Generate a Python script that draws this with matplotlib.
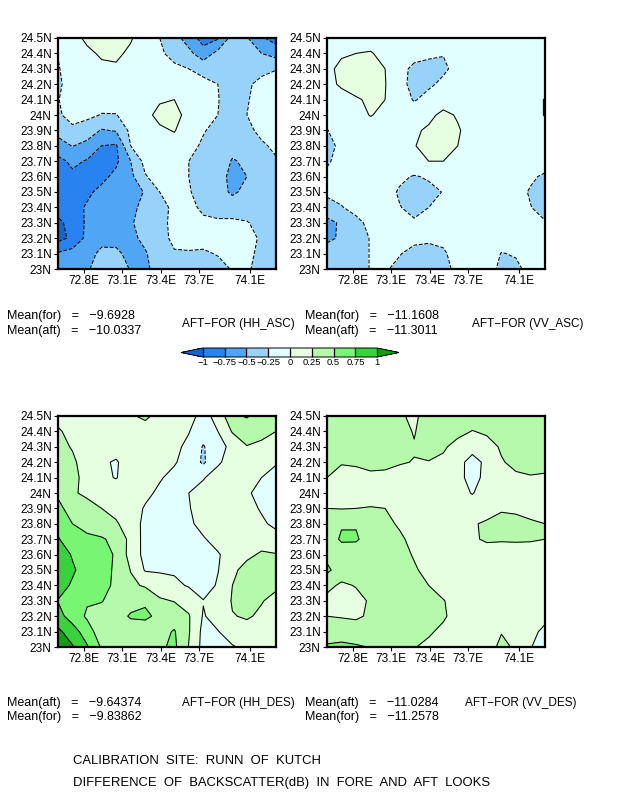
import numpy as np
import matplotlib
matplotlib.use('Agg')
from matplotlib import pyplot as plt
from matplotlib.colors import ListedColormap, BoundaryNorm

W, H = 618, 800

lons = [72.6, 72.713, 72.827, 72.94, 73.053, 73.167, 73.28, 73.393,
        73.507, 73.62, 73.733, 73.847, 73.96, 74.073, 74.187, 74.3]
lats = [24.5, 24.4, 24.3, 24.2, 24.1, 24.0, 23.9, 23.8,
        23.7, 23.6, 23.5, 23.4, 23.3, 23.2, 23.1, 23.0]

levels = [-1, -0.75, -0.5, -0.25, 0, 0.25, 0.5, 0.75, 1]
level_labels = ['\u22121', '\u22120.75', '\u22120.5', '\u22120.25', '0', '0.25', '0.5', '0.75', '1']
colors = ['#1464d2', '#2882f0', '#50a5f5', '#96d2fa', '#e1ffff',
          '#e6ffe1', '#b4faaa', '#78f573', '#37d23c', '#0fa00f']

xticks = [72.8, 73.1, 73.4, 73.7, 74.1]
yticks = [23, 23.1, 23.2, 23.3, 23.4, 23.5, 23.6, 23.7, 23.8, 23.9, 24, 24.1, 24.2, 24.3, 24.4, 24.5]

hh_asc = [
    [-0.15, -0.05, 0.03, 0.08, 0.08, 0.02, -0.12, -0.25, -0.4, -0.62, -0.85, -0.78, -0.4, -0.48, -0.72, -0.85],
    [-0.24, -0.12, -0.03, 0.02, 0.04, -0.04, -0.12, -0.21, -0.33, -0.43, -0.65, -0.42, -0.3, -0.36, -0.5, -0.6],
    [-0.27, -0.12, -0.06, -0.03, -0.03, -0.06, -0.1, -0.14, -0.2, -0.25, -0.32, -0.33, -0.33, -0.3, -0.32, -0.26],
    [-0.29, -0.15, -0.08, -0.06, -0.06, -0.06, -0.06, -0.08, -0.12, -0.15, -0.19, -0.25, -0.36, -0.29, -0.18, -0.15],
    [-0.26, -0.14, -0.1, -0.17, -0.14, -0.05, -0.05, -0.02, 0.0, -0.1, -0.2, -0.24, -0.36, -0.27, -0.15, -0.12],
    [-0.27, -0.2, -0.2, -0.26, -0.26, -0.13, -0.05, 0.05, 0.07, -0.07, -0.17, -0.25, -0.37, -0.25, -0.12, -0.1],
    [-0.42, -0.28, -0.36, -0.52, -0.48, -0.19, -0.1, -0.03, 0.01, -0.1, -0.23, -0.33, -0.38, -0.3, -0.2, -0.14],
    [-0.6, -0.49, -0.58, -0.75, -0.78, -0.25, -0.1, -0.07, -0.07, -0.17, -0.29, -0.33, -0.42, -0.36, -0.28, -0.21],
    [-0.82, -0.7, -0.77, -0.82, -0.8, -0.5, -0.17, -0.11, -0.1, -0.25, -0.31, -0.35, -0.52, -0.46, -0.33, -0.27],
    [-0.88, -0.8, -0.85, -0.82, -0.68, -0.56, -0.27, -0.14, -0.13, -0.25, -0.3, -0.4, -0.57, -0.5, -0.34, -0.3],
    [-0.92, -0.88, -0.8, -0.68, -0.6, -0.56, -0.49, -0.25, -0.15, -0.24, -0.3, -0.38, -0.55, -0.42, -0.33, -0.3],
    [-0.95, -0.85, -0.72, -0.65, -0.6, -0.56, -0.43, -0.36, -0.18, -0.18, -0.3, -0.33, -0.33, -0.33, -0.33, -0.33],
    [-1.03, -0.95, -0.7, -0.62, -0.58, -0.52, -0.42, -0.33, -0.18, -0.15, -0.2, -0.22, -0.22, -0.24, -0.3, -0.33],
    [-1.08, -0.95, -0.68, -0.57, -0.56, -0.55, -0.45, -0.33, -0.2, -0.17, -0.2, -0.2, -0.18, -0.2, -0.27, -0.33],
    [-0.72, -0.65, -0.58, -0.45, -0.46, -0.56, -0.52, -0.38, -0.27, -0.27, -0.27, -0.24, -0.16, -0.2, -0.3, -0.35],
    [-0.65, -0.6, -0.52, -0.42, -0.42, -0.51, -0.54, -0.42, -0.37, -0.33, -0.28, -0.3, -0.24, -0.23, -0.3, -0.35],
]

vv_asc = [
    [-0.1, -0.08, -0.07, -0.06, -0.08, -0.1, -0.12, -0.14, -0.15, -0.12, -0.1, -0.1, -0.1, -0.1, -0.1, -0.1],
    [-0.1, -0.03, 0.0, 0.01, -0.04, -0.1, -0.17, -0.22, -0.24, -0.12, -0.1, -0.1, -0.1, -0.1, -0.1, -0.1],
    [-0.06, 0.06, 0.07, 0.08, 0.0, -0.18, -0.3, -0.3, -0.29, -0.18, -0.1, -0.1, -0.1, -0.1, -0.1, -0.1],
    [-0.06, 0.03, 0.08, 0.09, 0.01, -0.18, -0.32, -0.29, -0.2, -0.13, -0.1, -0.1, -0.1, -0.1, -0.1, -0.1],
    [-0.12, -0.08, -0.02, 0.03, 0.0, -0.12, -0.27, -0.17, -0.1, -0.1, -0.1, -0.1, -0.1, -0.1, -0.08, 0.01],
    [-0.15, -0.12, -0.07, 0.01, -0.05, -0.1, -0.12, -0.05, 0.05, -0.02, -0.08, -0.1, -0.1, -0.1, -0.08, 0.01],
    [-0.26, -0.14, -0.1, -0.1, -0.1, -0.08, -0.03, 0.03, 0.08, 0.02, -0.08, -0.1, -0.1, -0.1, -0.1, -0.06],
    [-0.33, -0.19, -0.12, -0.1, -0.1, -0.07, -0.01, 0.07, 0.1, 0.0, -0.08, -0.1, -0.1, -0.1, -0.1, -0.1],
    [-0.28, -0.17, -0.12, -0.1, -0.1, -0.08, -0.03, 0.0, 0.0, -0.04, -0.08, -0.1, -0.1, -0.1, -0.1, -0.1],
    [-0.2, -0.14, -0.11, -0.1, -0.12, -0.2, -0.27, -0.22, -0.13, -0.1, -0.1, -0.1, -0.1, -0.1, -0.2, -0.3],
    [-0.21, -0.19, -0.13, -0.1, -0.15, -0.28, -0.38, -0.32, -0.24, -0.12, -0.1, -0.1, -0.1, -0.14, -0.28, -0.38],
    [-0.33, -0.26, -0.19, -0.14, -0.14, -0.24, -0.32, -0.25, -0.16, -0.11, -0.1, -0.1, -0.1, -0.14, -0.24, -0.36],
    [-0.58, -0.46, -0.3, -0.2, -0.13, -0.18, -0.22, -0.16, -0.12, -0.1, -0.1, -0.1, -0.1, -0.11, -0.18, -0.23],
    [-0.56, -0.46, -0.33, -0.24, -0.15, -0.14, -0.2, -0.22, -0.2, -0.14, -0.1, -0.1, -0.12, -0.1, -0.1, -0.1],
    [-0.36, -0.37, -0.33, -0.24, -0.19, -0.24, -0.31, -0.31, -0.28, -0.16, -0.11, -0.11, -0.26, -0.23, -0.12, -0.1],
    [-0.36, -0.35, -0.33, -0.24, -0.23, -0.3, -0.34, -0.34, -0.31, -0.2, -0.14, -0.16, -0.3, -0.3, -0.18, -0.12],
]

hh_des = [
    [0.2, 0.14, 0.1, 0.1, 0.14, 0.22, 0.3, 0.17, 0.12, 0.07, -0.07, 0.07, 0.46, 0.52, 0.4, 0.35],
    [0.27, 0.2, 0.1, 0.08, 0.09, 0.1, 0.13, 0.11, 0.08, 0.01, -0.14, 0.0, 0.27, 0.36, 0.29, 0.25],
    [0.33, 0.23, 0.14, 0.08, 0.08, 0.08, 0.08, 0.08, 0.05, -0.05, -0.27, -0.08, 0.06, 0.24, 0.22, 0.18],
    [0.36, 0.3, 0.12, 0.03, -0.02, 0.1, 0.08, 0.07, 0.02, -0.09, -0.29, -0.02, 0.06, 0.16, 0.14, 0.02],
    [0.38, 0.3, 0.19, 0.04, -0.01, 0.1, 0.08, 0.02, -0.06, -0.11, -0.01, 0.06, 0.12, 0.1, 0.0, -0.08],
    [0.47, 0.28, 0.2, 0.12, 0.12, 0.12, 0.05, -0.04, -0.09, 0.0, 0.05, 0.12, 0.14, 0.03, -0.07, -0.12],
    [0.55, 0.42, 0.34, 0.25, 0.17, 0.1, -0.02, -0.1, -0.13, -0.01, 0.07, 0.12, 0.14, 0.1, -0.03, -0.12],
    [0.68, 0.5, 0.42, 0.38, 0.28, 0.12, -0.06, -0.16, -0.17, -0.04, 0.07, 0.12, 0.13, 0.13, 0.05, -0.07],
    [0.77, 0.6, 0.55, 0.52, 0.45, 0.17, -0.08, -0.18, -0.2, -0.12, -0.02, 0.08, 0.12, 0.13, 0.15, 0.12],
    [0.88, 0.73, 0.62, 0.57, 0.48, 0.15, -0.07, -0.16, -0.16, -0.13, -0.11, -0.02, 0.1, 0.2, 0.28, 0.26],
    [0.92, 0.78, 0.65, 0.57, 0.47, 0.24, -0.02, -0.03, -0.03, -0.15, -0.14, -0.01, 0.2, 0.33, 0.36, 0.35],
    [0.85, 0.72, 0.62, 0.55, 0.47, 0.3, 0.22, 0.13, 0.05, -0.02, -0.13, 0.03, 0.25, 0.35, 0.36, 0.28],
    [0.74, 0.6, 0.52, 0.51, 0.42, 0.43, 0.47, 0.28, 0.24, 0.15, 0.01, 0.07, 0.27, 0.33, 0.26, 0.2],
    [0.85, 0.62, 0.47, 0.42, 0.42, 0.52, 0.54, 0.45, 0.38, 0.27, -0.02, 0.1, 0.24, 0.27, 0.22, 0.18],
    [1.05, 0.88, 0.6, 0.38, 0.38, 0.4, 0.38, 0.42, 0.52, 0.27, -0.07, -0.01, 0.12, 0.18, 0.17, 0.15],
    [1.2, 1.02, 0.78, 0.47, 0.38, 0.35, 0.37, 0.46, 0.55, 0.24, -0.08, -0.05, -0.02, 0.05, 0.08, 0.1],
]

vv_des = [
    [0.3, 0.33, 0.35, 0.36, 0.34, 0.27, 0.22, 0.32, 0.36, 0.34, 0.32, 0.36, 0.38, 0.38, 0.36, 0.35],
    [0.34, 0.37, 0.38, 0.38, 0.36, 0.3, 0.24, 0.33, 0.32, 0.29, 0.245, 0.27, 0.34, 0.36, 0.36, 0.34],
    [0.33, 0.32, 0.34, 0.34, 0.33, 0.3, 0.26, 0.3, 0.27, 0.2, 0.08, 0.2, 0.265, 0.34, 0.34, 0.33],
    [0.3, 0.26, 0.27, 0.29, 0.28, 0.26, 0.245, 0.245, 0.22, 0.07, -0.08, 0.05, 0.24, 0.28, 0.3, 0.3],
    [0.25, 0.2, 0.2, 0.22, 0.22, 0.2, 0.18, 0.17, 0.13, 0.05, -0.06, 0.05, 0.2, 0.23, 0.24, 0.23],
    [0.22, 0.15, 0.14, 0.17, 0.17, 0.15, 0.13, 0.12, 0.1, 0.07, -0.01, 0.08, 0.12, 0.14, 0.14, 0.14],
    [0.25, 0.24, 0.25, 0.26, 0.25, 0.17, 0.13, 0.1, 0.09, 0.08, 0.1, 0.16, 0.23, 0.22, 0.2, 0.17],
    [0.33, 0.48, 0.48, 0.36, 0.31, 0.22, 0.15, 0.12, 0.1, 0.12, 0.23, 0.28, 0.31, 0.3, 0.27, 0.25],
    [0.38, 0.53, 0.53, 0.38, 0.32, 0.29, 0.18, 0.14, 0.12, 0.13, 0.23, 0.27, 0.26, 0.26, 0.26, 0.25],
    [0.42, 0.38, 0.36, 0.34, 0.33, 0.31, 0.235, 0.17, 0.12, 0.11, 0.14, 0.18, 0.2, 0.21, 0.2, 0.19],
    [0.56, 0.35, 0.35, 0.35, 0.35, 0.33, 0.27, 0.2, 0.13, 0.1, 0.11, 0.13, 0.14, 0.14, 0.13, 0.12],
    [0.3, 0.22, 0.26, 0.34, 0.36, 0.34, 0.31, 0.25, 0.16, 0.12, 0.11, 0.11, 0.11, 0.11, 0.1, 0.1],
    [0.2, 0.12, 0.2, 0.27, 0.36, 0.36, 0.33, 0.29, 0.26, 0.17, 0.12, 0.11, 0.11, 0.1, 0.09, 0.08],
    [0.25, 0.24, 0.22, 0.28, 0.35, 0.36, 0.33, 0.3, 0.28, 0.16, 0.11, 0.1, 0.14, 0.1, 0.08, 0.06],
    [0.38, 0.33, 0.35, 0.33, 0.35, 0.34, 0.31, 0.28, 0.2, 0.15, 0.12, 0.13, 0.24, 0.16, 0.06, -0.05],
    [0.53, 0.58, 0.53, 0.49, 0.38, 0.31, 0.26, 0.2, 0.16, 0.13, 0.12, 0.16, 0.3, 0.22, 0.01, -0.1],
]

plt.rcParams['font.family'] = ['Liberation Sans', 'DejaVu Sans']
cmap = ListedColormap(colors[1:-1])
cmap.set_under(colors[0])
cmap.set_over(colors[-1])
norm = BoundaryNorm(levels, cmap.N)


def px_axes(fig, left, top, right, bottom):
    return fig.add_axes([left/W, 1-bottom/H, (right-left)/W, (bottom-top)/H])


def put(fig, x, y, s, size=9):
    fig.text(x/W, 1-y/H, s, fontsize=size, va='center', ha='left', color='black')


def panel(fig, box, values):
    ax = px_axes(fig, *box)
    cf = ax.contourf(lons, lats, values, levels=levels, cmap=cmap, norm=norm, extend='both')
    ax.contour(lons, lats, values, levels=levels, colors='k', linewidths=0.75)
    ax.set_xlim(72.6, 74.3)
    ax.set_ylim(23, 24.5)
    ax.set_xticks(xticks)
    ax.set_xticklabels(['%.1fE' % v for v in xticks])
    ax.set_yticks(yticks)
    ax.set_yticklabels([('%gN' % v) for v in yticks])
    ax.tick_params(length=3, width=0.8, pad=1.5, labelsize=8.6)
    for s in ax.spines.values():
        s.set_linewidth(1.6)
    return cf


fig = plt.figure(figsize=(W/100, H/100), dpi=100)

cf = panel(fig, (58, 38, 276, 269), hh_asc)
panel(fig, (327, 38, 545, 269), vv_asc)
panel(fig, (58, 416, 276, 647), hh_des)
panel(fig, (327, 416, 545, 647), vv_des)

cax = px_axes(fig, 181, 348, 399, 357)
cb = fig.colorbar(cf, cax=cax, orientation='horizontal', extend='both', extendfrac=0.125,
                  ticks=levels, drawedges=True)
cb.ax.set_xticklabels(level_labels)
cb.ax.tick_params(length=0, pad=1, labelsize=6.8)
cb.outline.set_linewidth(0.7)
cb.dividers.set_color('k')
cb.dividers.set_linewidth(0.9)

put(fig, 7, 316, 'Mean(for)   =   \u22129.6928')
put(fig, 7, 331, 'Mean(aft)   =   \u221210.0337')
put(fig, 182, 324, 'AFT\u2212FOR (HH_ASC)', 8.45)
put(fig, 305, 316, 'Mean(for)   =   \u221211.1608')
put(fig, 305, 331, 'Mean(aft)   =   \u221211.3011')
put(fig, 472, 324, 'AFT\u2212FOR (VV_ASC)', 8.45)

put(fig, 7, 703, 'Mean(aft)   =   \u22129.64374')
put(fig, 7, 717, 'Mean(for)   =   \u22129.83862')
put(fig, 182, 703, 'AFT\u2212FOR (HH_DES)', 8.45)
put(fig, 305, 703, 'Mean(aft)   =   \u221211.0284')
put(fig, 305, 717, 'Mean(for)   =   \u221211.2578')
put(fig, 465, 703, 'AFT\u2212FOR (VV_DES)', 8.45)

put(fig, 73, 761, 'CALIBRATION  SITE:  RUNN  OF  KUTCH', 9.4)
put(fig, 73, 783, 'DIFFERENCE  OF  BACKSCATTER(dB)  IN  FORE  AND  AFT  LOOKS', 9.4)

fig.savefig('out.png', dpi=100)
